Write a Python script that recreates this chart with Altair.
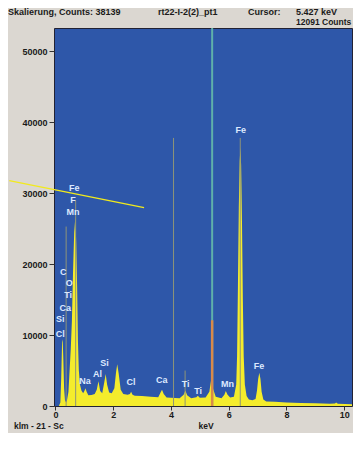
import altair as alt
import pandas as pd

# ---------------- data ----------------
energy = [-0.05, 0.12, 0.17, 0.20, 0.23, 0.25, 0.27, 0.30, 0.33, 0.37, 0.40, 0.45, 0.49, 0.53,
          0.57, 0.61, 0.65, 0.69, 0.72, 0.75, 0.78, 0.81, 0.85, 0.90, 0.96, 1.01, 1.04, 1.08,
          1.14, 1.25, 1.36, 1.43, 1.49, 1.55, 1.62, 1.69, 1.74, 1.79, 1.86, 1.95, 2.04, 2.10,
          2.14, 2.19, 2.26, 2.35, 2.50, 2.58, 2.62, 2.67, 2.75, 3.00, 3.30, 3.56, 3.64, 3.69,
          3.75, 3.85, 4.00, 4.30, 4.44, 4.50, 4.56, 4.70, 4.88, 4.93, 5.00, 5.20, 5.33, 5.40,
          5.46, 5.55, 5.75, 5.85, 5.90, 5.96, 6.05, 6.18, 6.26, 6.29, 6.32, 6.35, 6.38, 6.405,
          6.43, 6.46, 6.49, 6.52, 6.56, 6.62, 6.70, 6.82, 6.93, 6.98, 7.02, 7.06, 7.10, 7.14,
          7.20, 7.30, 7.60, 8.00, 8.50, 9.00, 9.50, 9.68, 9.72, 9.78, 10.27]
counts = [0, 0, 500, 4000, 9000, 9400, 7000, 2500, 800, 500, 800, 2000, 5000, 8000,
          12000, 19000, 24500, 26700, 23000, 17000, 9000, 5000, 3000, 2200, 1800, 2200, 2500, 2000,
          1500, 1550, 1700, 2300, 3500, 2100, 1800, 3300, 4500, 3000, 1900, 1800, 2500, 4800,
          5900, 4600, 2300, 1700, 1600, 1700, 2000, 1600, 1450, 1400, 1300, 1250, 1900, 2300,
          1700, 1200, 1150, 1100, 1600, 2200, 1500, 1100, 1250, 1450, 1150, 1200, 2000, 3900,
          2400, 1300, 1100, 1600, 2100, 1600, 1200, 1300, 3000, 7000, 17000, 28000, 34500, 36400,
          34000, 26000, 15000, 7000, 3000, 1400, 900, 800, 1000, 2200, 3800, 4700, 3800, 2000,
          900, 650, 600, 500, 420, 380, 330, 350, 480, 300, 250]

label_text = ["Fe", "F", "Mn", "C", "O", "Ti", "Ca", "Si", "Cl", "Na", "Al", "Si", "Cl",
              "Ca", "Ti", "Ti", "Mn", "Fe", "Fe"]
label_kev = [0.65, 0.61, 0.61, 0.27, 0.48, 0.44, 0.34, 0.17, 0.17, 1.02, 1.46, 1.70, 2.62,
             3.68, 4.51, 4.94, 5.96, 6.42, 7.05]
label_counts = [30740, 29070, 27410, 18830, 17310, 15640, 13840, 12320, 10100, 3460, 4570,
                6090, 3320, 3600, 3050, 2080, 3050, 38970, 5680]

marker_kev = [0.37, 0.70, 4.09, 4.49, 6.40]
marker_top = [25300, 29000, 37800, 5000, 37800]

cursor_kev = [5.427]
cursor_counts = [12091]

pointer_kev = [-1.60]
pointer_counts = [31770]
pointer_kev2 = [3.07]
pointer_counts2 = [27970]

header_left = "Skalierung, Counts: 38139"
header_name = "rt22-I-2(2)_pt1"
header_cursor = "Cursor:"
header_kev = "5.427 keV"
header_counts = "12091 Counts"
footer_left = "klm - 21 - Sc"
footer_axis = "keV"

x_ticks = [0, 2, 4, 6, 8, 10]
y_ticks = [0, 10000, 20000, 30000, 40000, 50000]

# ---------------- chart ----------------
FONT = "Liberation Sans"
X = alt.Scale(domain=[-0.05, 10.27], nice=False, zero=False)
Y = alt.Scale(domain=[0, 53300], nice=False, zero=False)

spec = pd.DataFrame({"keV": energy, "counts": counts})

area = alt.Chart(spec).mark_area(color="#f4ec2c", interpolate="linear", clip=True).encode(
    x=alt.X("keV:Q", scale=X,
            axis=alt.Axis(values=x_ticks, title=None, format="d", labelPadding=0, tickSize=4)),
    y=alt.Y("counts:Q", scale=Y,
            axis=alt.Axis(values=y_ticks, title=None, format="d", labelPadding=2)),
)

markers = alt.Chart(pd.DataFrame({"k": marker_kev, "t": marker_top, "z": [0] * len(marker_kev)})).mark_rule(
    color="#8e9478", strokeWidth=1).encode(
    x=alt.X("k:Q", scale=X), y=alt.Y("z:Q", scale=Y), y2="t:Q")

cur_full = alt.Chart(pd.DataFrame({"k": cursor_kev, "lo": [0], "hi": [53300]})).mark_rule(
    color="#5fb0aa", strokeWidth=2).encode(
    x=alt.X("k:Q", scale=X), y=alt.Y("lo:Q", scale=Y), y2="hi:Q")

cur_low = alt.Chart(pd.DataFrame({"k": cursor_kev, "lo": [0], "hi": cursor_counts})).mark_rule(
    color="#d98a4a", strokeWidth=2.5).encode(
    x=alt.X("k:Q", scale=X), y=alt.Y("lo:Q", scale=Y), y2="hi:Q")

pointer = alt.Chart(pd.DataFrame({"a": pointer_kev, "b": pointer_counts,
                                  "a2": pointer_kev2, "b2": pointer_counts2})).mark_rule(
    color="#f2ea1c", strokeWidth=1.2, clip=False).encode(
    x=alt.X("a:Q", scale=X), y=alt.Y("b:Q", scale=Y), x2="a2:Q", y2="b2:Q")

labels = alt.Chart(pd.DataFrame({"t": label_text, "k": label_kev, "c": label_counts})).mark_text(
    font=FONT, fontSize=9, fontWeight="bold", color="#dde9ff", align="center", baseline="middle").encode(
    x=alt.X("k:Q", scale=X), y=alt.Y("c:Q", scale=Y), text="t:N")


def txt(s, x, y, align="left", size=9):
    return alt.Chart(pd.DataFrame({"t": [s]})).mark_text(
        font=FONT, fontSize=size, fontWeight="bold", color="#1a1a1a", align=align,
        baseline="middle").encode(text="t:N", x=alt.value(x), y=alt.value(y))


texts = [
    txt(header_left, -46, -16),
    txt(header_name, 104, -16),
    txt(header_cursor, 194, -16),
    txt(header_kev, 242, -16),
    txt(header_counts, 242, -6, size=8.5),
    txt(footer_left, -40, 398, size=8.5),
    txt(footer_axis, 152, 398, "center", size=8.5),
]

chart = alt.layer(area, markers, cur_full, cur_low, labels, pointer, *texts).properties(
    width=298, height=378,
    padding={"left": 46, "top": 20, "right": 1, "bottom": 27},
    autosize=alt.AutoSizeParams(type="none"),
    background="#dbd7d1",
).configure_view(
    fill="#2e57a9", stroke="#223", strokeWidth=1
).configure_axis(
    labelFont=FONT, labelFontSize=9, labelFontWeight="bold", labelColor="#1a1a1a",
    tickColor="#333333", tickSize=5, domain=False, grid=False,
)

chart.save("out.html", embed_options={"renderer": "svg", "actions": False})
